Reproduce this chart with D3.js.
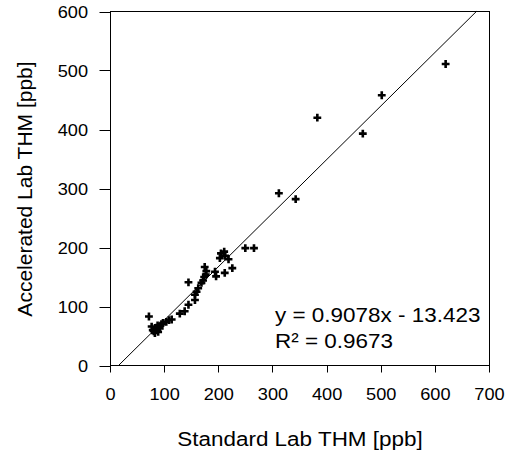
<!DOCTYPE html>
<html>
<head>
<meta charset="utf-8">
<script src="https://cdn.jsdelivr.net/npm/d3@7"></script>
<style>
  body { margin: 0; background: #fff; }
  svg { display: block; font-family: "Liberation Sans", Arial, sans-serif; }
</style>
</head>
<body>
<svg id="chart" width="508" height="457"></svg>
<script>
// data
const stdLab = [71, 76, 78, 80, 82, 84, 85, 87, 88, 91, 94, 97, 103, 108, 113, 128, 137, 144, 144, 156,
  156, 159, 162, 168, 171, 173, 174, 177, 176, 193, 195, 202, 204, 210, 212, 218, 211, 225, 249, 265,
  311, 342, 382, 466, 501, 619];
const accelLab = [83, 66, 60, 58, 55, 62, 64, 68, 57, 63, 70, 72, 74, 77, 78, 88, 92, 103, 141, 111,
  120, 125, 131, 140, 144, 150, 167, 160, 154, 159, 151, 182, 190, 193, 186, 180, 157, 165, 199, 199,
  292, 282, 420, 393, 458, 511];
const xTicks = [0, 100, 200, 300, 400, 500, 600, 700];
const yTicks = [0, 100, 200, 300, 400, 500, 600];
const slope = 0.9078, intercept = -13.423;
const eqLines = ["y = 0.9078x - 13.423", "R² = 0.9673"];

const svg = d3.select("#chart");
const stretch = 1.07; // text in the picture is a bit wide

const x = d3.scaleLinear().domain([0, 700]).range([110.5, 489.5]);
const y = d3.scaleLinear().domain([0, 600]).range([365.5, 11.5]);

// frame
svg.append("rect")
  .attr("x", x(0)).attr("y", y(600))
  .attr("width", x(700) - x(0)).attr("height", y(0) - y(600))
  .attr("fill", "none").attr("stroke", "#000").attr("stroke-width", 1);

// ticks
svg.append("g").selectAll("line").data(yTicks).enter().append("line")
  .attr("x1", x(0) - 11).attr("x2", x(0))
  .attr("y1", d => Math.round(y(d)) + 0.5).attr("y2", d => Math.round(y(d)) + 0.5)
  .attr("stroke", "#000");
svg.append("g").selectAll("line").data(xTicks).enter().append("line")
  .attr("x1", d => Math.round(x(d) - 0.5) + 0.5).attr("x2", d => Math.round(x(d) - 0.5) + 0.5)
  .attr("y1", y(0)).attr("y2", y(0) + 7)
  .attr("stroke", "#000");

// tick labels
svg.append("g").selectAll("text").data(yTicks).enter().append("text")
  .attr("transform", d => `translate(88,${y(d) + 6}) scale(${stretch},1)`)
  .attr("text-anchor", "end")
  .style("font-size", "17px")
  .text(d => d);
svg.append("g").selectAll("text").data(xTicks).enter().append("text")
  .attr("transform", d => `translate(${x(d)},400) scale(${stretch},1)`)
  .attr("text-anchor", "middle")
  .style("font-size", "17px")
  .text(d => d);

// axis titles
svg.append("text")
  .attr("transform", `translate(300,446) scale(${stretch},1)`)
  .attr("text-anchor", "middle")
  .style("font-size", "21px")
  .text("Standard Lab THM [ppb]");
svg.append("text")
  .attr("transform", `translate(32,189) rotate(-90)`)
  .attr("text-anchor", "middle")
  .style("font-size", "21px")
  .text("Accelerated Lab THM [ppb]");

// trend line, clipped to the plot's y range
const x0 = (0 - intercept) / slope, x1 = (600 - intercept) / slope;
svg.append("line")
  .attr("x1", x(x0)).attr("y1", y(0))
  .attr("x2", x(x1)).attr("y2", y(600))
  .attr("stroke", "#000").attr("stroke-width", 1);

// points
const pts = stdLab.map((v, i) => ({ sx: v, ax: accelLab[i] }));
svg.append("g").selectAll("path").data(pts).enter().append("path")
  .attr("d", d3.symbol().type(d3.symbolCross).size(34))
  .attr("transform", d => `translate(${x(d.sx)},${y(d.ax)})`)
  .attr("fill", "#000");

// equation
svg.append("g").selectAll("text").data(eqLines).enter().append("text")
  .attr("transform", (d, i) => `translate(275,${322 + i * 26}) scale(${stretch},1)`)
  .style("font-size", "21px")
  .text(d => d);
</script>
</body>
</html>
